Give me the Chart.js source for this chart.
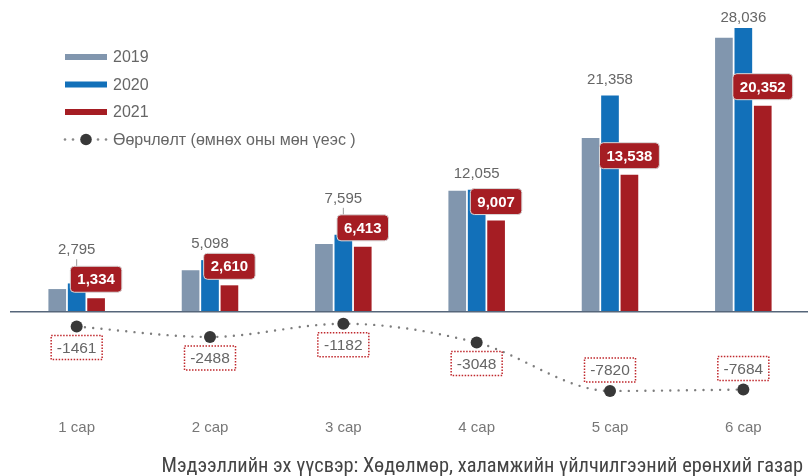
<!DOCTYPE html>
<html>
<head>
<meta charset="utf-8">
<script src="https://cdn.jsdelivr.net/npm/chart.js@4/dist/chart.umd.min.js"></script>
<style>
  html, body { margin: 0; padding: 0; background: #fff; overflow: hidden; }
  #wrap { position: relative; width: 808px; height: 476px; overflow: hidden; }
  #src {
    position: absolute; right: 5px; top: 453px;
    font-family: "Liberation Sans Narrow", "Roboto Condensed", "DejaVu Sans Condensed", sans-serif;
    font-size: 20.4px; color: #444; white-space: nowrap;
  }
</style>
</head>
<body>
<div id="wrap">
  <canvas id="salesChart" width="816" height="476"></canvas>
  <div id="src">Мэдээллийн эх үүсвэр: Хөдөлмөр, халамжийн үйлчилгээний ерөнхий газар</div>
</div>
<script>
// Өгөгдөл
var categories = ['1 сар', '2 сар', '3 сар', '4 сар', '5 сар', '6 сар'];
var values2019 = [2240, 4100, 6680, 11950, 17150, 27050];
var values2020 = [2795, 5098, 7595, 12055, 21358, 28036];
var values2021 = [1334, 2610, 6413, 9007, 13538, 20352];
var changeValues = [-1461, -2488, -1182, -3048, -7820, -7684];
var changeLabel = 'Өөрчлөлт (өмнөх оны мөн үеэс )';

var FONT = '"Liberation Sans", Arial, sans-serif';

function fmt(v) {
  return v.toLocaleString('en-US');
}

function roundRect(ctx, x, y, w, h, r) {
  ctx.beginPath();
  ctx.moveTo(x + r, y);
  ctx.lineTo(x + w - r, y);
  ctx.quadraticCurveTo(x + w, y, x + w, y + r);
  ctx.lineTo(x + w, y + h - r);
  ctx.quadraticCurveTo(x + w, y + h, x + w - r, y + h);
  ctx.lineTo(x + r, y + h);
  ctx.quadraticCurveTo(x, y + h, x, y + h - r);
  ctx.lineTo(x, y + r);
  ctx.quadraticCurveTo(x, y, x + r, y);
  ctx.closePath();
}

// Шошго болон тайлбар зурах
var labelPlugin = {
  id: 'labelPlugin',
  afterDraw: function(chart) {
    var ctx = chart.ctx;
    var area = chart.chartArea;
    var m2020 = chart.getDatasetMeta(1);
    var m2021 = chart.getDatasetMeta(2);
    var mLine = chart.getDatasetMeta(3);

    ctx.save();
    ctx.textAlign = 'center';
    ctx.textBaseline = 'middle';

    for (var i = 0; i < categories.length; i++) {
      var blue = m2020.data[i];
      var red = m2021.data[i];

      // 2021 улаан хайрцаг
      ctx.font = 'bold 15px ' + FONT;
      var txt = fmt(values2021[i]);
      var bw = ctx.measureText(txt).width + 14;
      var bh = 26;
      var bx = red.x - bw / 2;
      var by = red.y - 6 - bh;

      // 2020 саарал текст
      var ly = blue.y - 16;
      var moved = false;
      if (ly + 6 > by) {
        ly = by - 16;
        moved = true;
      }
      ly = Math.max(ly, area.top + 10);
      if (moved) {
        ctx.strokeStyle = '#999';
        ctx.lineWidth = 1;
        ctx.beginPath();
        ctx.moveTo(blue.x, ly + 9);
        ctx.lineTo(blue.x, by);
        ctx.stroke();
      }
      ctx.font = '15px ' + FONT;
      ctx.fillStyle = '#666';
      ctx.fillText(fmt(values2020[i]), blue.x, ly);

      roundRect(ctx, bx, by, bw, bh, 4);
      ctx.fillStyle = '#a51d23';
      ctx.fill();
      ctx.strokeStyle = '#d9d9d9';
      ctx.lineWidth = 1;
      ctx.stroke();
      ctx.font = 'bold 15px ' + FONT;
      ctx.fillStyle = '#fff';
      ctx.fillText(txt, red.x, by + bh / 2 + 1);

      // Өөрчлөлтийн тасархай хайрцаг
      var pt = mLine.data[i];
      var cy = pt.y + 21;
      if (cy + 12 > area.bottom) cy = pt.y - 21;
      var cw = 51, ch = 24;
      ctx.fillStyle = '#fff';
      ctx.fillRect(pt.x - cw / 2, cy - ch / 2, cw, ch);
      ctx.setLineDash([1.5, 1.5]);
      ctx.strokeStyle = '#c0282d';
      ctx.lineWidth = 1.5;
      ctx.strokeRect(pt.x - cw / 2, cy - ch / 2, cw, ch);
      ctx.setLineDash([]);
      ctx.font = '15.5px ' + FONT;
      ctx.fillStyle = '#666';
      ctx.fillText(String(changeValues[i]), pt.x, cy + 1);
    }

    // Тайлбар (legend)
    var ds = chart.data.datasets;
    var lx = 65, lw = 42, ty = 57, step = 27.5;
    ctx.textAlign = 'left';
    ctx.font = '16px ' + FONT;
    for (var k = 0; k < 3; k++) {
      var yy = ty + k * step;
      ctx.fillStyle = ds[k].backgroundColor;
      ctx.fillRect(lx, yy - 3, lw, 6);
      ctx.fillStyle = '#666';
      ctx.fillText(ds[k].label, lx + 48, yy + 1);
    }
    var yl = ty + 3 * step;
    ctx.fillStyle = '#888';
    [65, 73, 98, 106].forEach(function(dx) {
      ctx.beginPath();
      ctx.arc(dx, yl, 1.3, 0, Math.PI * 2);
      ctx.fill();
    });
    ctx.fillStyle = '#383838';
    ctx.beginPath();
    ctx.arc(86, yl, 5.8, 0, Math.PI * 2);
    ctx.fill();
    ctx.fillStyle = '#666';
    ctx.fillText(ds[3].label, lx + 48, yl + 1);

    ctx.restore();
  }
};

var ctx = document.getElementById('salesChart').getContext('2d');

var chart = new Chart(ctx, {
  type: 'bar',
  data: {
    labels: categories,
    datasets: [
      { label: '2019', data: values2019, backgroundColor: '#8196ae', order: 2 },
      { label: '2020', data: values2020, backgroundColor: '#1270b9', order: 2 },
      { label: '2021', data: values2021, backgroundColor: '#a51d23', order: 2 },
      {
        type: 'line',
        label: changeLabel,
        data: changeValues,
        borderColor: '#7d7d7d',
        borderWidth: 2.4,
        borderDash: [0, 8.3],
        borderCapStyle: 'round',
        cubicInterpolationMode: 'monotone',
        pointRadius: 6,
        pointBackgroundColor: '#383838',
        pointBorderWidth: 0,
        fill: false,
        order: 1
      }
    ]
  },
  options: {
    responsive: false,
    animation: false,
    categoryPercentage: 0.437,
    barPercentage: 0.91,
    layout: { padding: { left: 10, right: 0, top: 8, bottom: 33 } },
    plugins: {
      legend: { display: false },
      tooltip: { enabled: false }
    },
    scales: {
      x: {
        grid: { display: false, drawTicks: false },
        border: { display: false },
        ticks: { color: '#777', font: { family: FONT, size: 15 }, padding: 6 }
      },
      y: {
        min: -10000,
        max: 30000,
        border: { display: false },
        grid: {
          drawTicks: false,
          lineWidth: 1.5,
          color: function(c) { return c.tick && c.tick.value === 0 ? '#56667a' : 'rgba(0,0,0,0)'; }
        },
        ticks: { display: false, stepSize: 10000 }
      }
    }
  },
  plugins: [labelPlugin]
});
</script>
</body>
</html>
